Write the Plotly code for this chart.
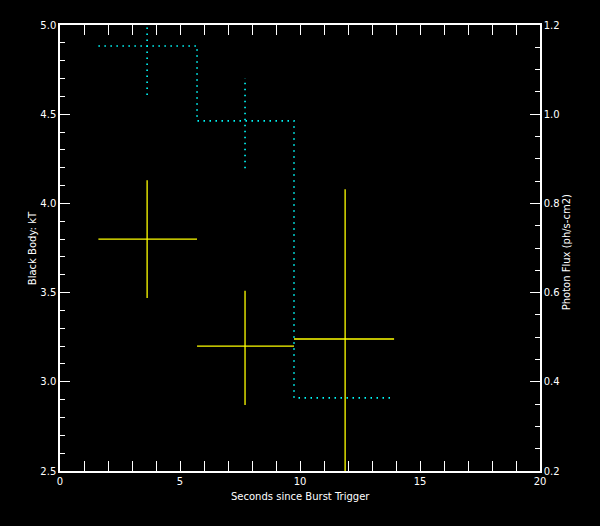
import plotly.graph_objects as go

# Black body kT crosses (left axis)
kt_time = [3.63, 7.71, 11.88]
kt_tlo = [1.60, 5.71, 9.75]
kt_thi = [5.71, 9.75, 13.92]
kt_val = [3.80, 3.20, 3.24]
kt_lo = [3.47, 2.87, 2.45]
kt_hi = [4.13, 3.51, 4.08]

# Photon flux step (right axis)
flux_edges = [1.60, 5.71, 9.75, 13.92]
flux_val = [1.153, 0.985, 0.364]
flux_err_time = [3.63, 7.71]
flux_err_lo = [1.043, 0.879]
flux_err_hi = [1.195, 1.081]

x_ticks = [0, 5, 10, 15, 20]

YELLOW = "#ffff00"
CYAN = "#00ffff"
WHITE = "#ffffff"
FONT = "DejaVu Sans"

# build cross segments
cx, cy = [], []
for t, a, b, v, lo, hi in zip(kt_time, kt_tlo, kt_thi, kt_val, kt_lo, kt_hi):
    cx += [a, b, None, t, t, None]
    cy += [v, v, None, lo, hi, None]

fx, fy = [], []
for t, lo, hi in zip(flux_err_time, flux_err_lo, flux_err_hi):
    fx += [t, t, None]
    fy += [lo, hi, None]

fig = go.Figure()
fig.add_trace(go.Scatter(x=cx, y=cy, mode="lines", line=dict(color=YELLOW, width=1.3),
                         showlegend=False, hoverinfo="skip"))
fig.add_trace(go.Scatter(x=flux_edges, y=flux_val + [flux_val[-1]], mode="lines",
                         line=dict(color=CYAN, width=1.6, dash="1.5px,4.5px", shape="hv"),
                         yaxis="y2", showlegend=False, hoverinfo="skip"))
fig.add_trace(go.Scatter(x=fx, y=fy, mode="lines",
                         line=dict(color=CYAN, width=1.6, dash="1.5px,4.5px"),
                         yaxis="y2", showlegend=False, hoverinfo="skip"))

tickfont = dict(family=FONT, size=10, color=WHITE)
fig.update_layout(
    width=600, height=526,
    margin=dict(l=60, r=60, t=25, b=55),
    paper_bgcolor="black", plot_bgcolor="black",
    xaxis=dict(range=[0, 20], tickvals=x_ticks, ticks="inside", ticklen=10,
               tickcolor=WHITE, tickwidth=1, showgrid=False, zeroline=False,
               showline=True, linecolor=WHITE, linewidth=1.5, mirror="allticks",
               tickfont=tickfont,
               minor=dict(dtick=1, ticks="inside", ticklen=5, tickcolor=WHITE, showgrid=False)),
    yaxis=dict(range=[2.5, 5.0], dtick=0.5, tickformat=".1f", ticks="inside", ticklen=10,
               tickcolor=WHITE, showgrid=False, zeroline=False, showline=True,
               linecolor=WHITE, linewidth=1.5, tickfont=tickfont,
               minor=dict(dtick=0.1, ticks="inside", ticklen=5, tickcolor=WHITE, showgrid=False)),
    yaxis2=dict(range=[0.2, 1.2], dtick=0.2, tickformat=".1f", ticks="inside", ticklen=10,
                tickcolor=WHITE, showgrid=False, zeroline=False, showline=True,
                linecolor=WHITE, linewidth=1.5, tickfont=tickfont, overlaying="y", side="right",
                minor=dict(dtick=0.05, ticks="inside", ticklen=5, tickcolor=WHITE, showgrid=False)),
    annotations=[
        dict(text="Seconds since Burst Trigger", xref="paper", yref="paper", x=0.5, y=-0.058,
             xanchor="center", yanchor="middle", showarrow=False,
             font=dict(family=FONT, size=10, color=WHITE)),
        dict(text="Black Body: kT", xref="paper", yref="paper", x=-0.058, y=0.5,
             xanchor="center", yanchor="middle", showarrow=False, textangle=-90,
             font=dict(family=FONT, size=10, color=WHITE)),
        dict(text="Photon Flux (ph/s-cm2)", xref="paper", yref="paper", x=1.056, y=0.49,
             xanchor="center", yanchor="middle", showarrow=False, textangle=-90,
             font=dict(family=FONT, size=10, color=WHITE)),
    ],
)
fig.write_html("out.html", config={"displayModeBar": False},
               post_script="document.body.style.margin='0';document.body.style.background='black';")
